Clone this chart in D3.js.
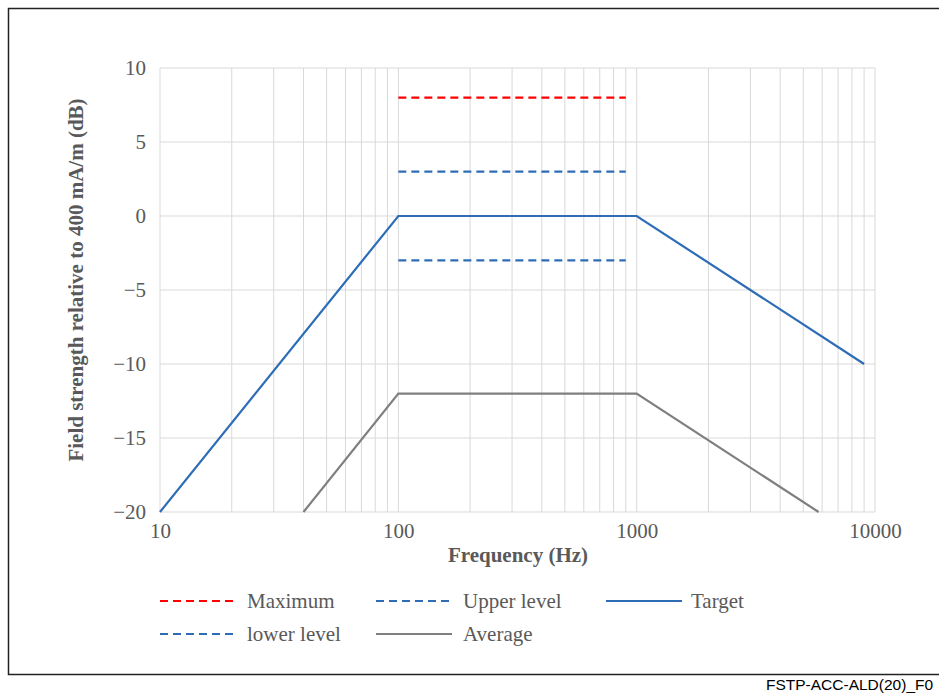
<!DOCTYPE html>
<html>
<head>
<meta charset="utf-8">
<script src="https://cdn.jsdelivr.net/npm/d3@7"></script>
<style>
  body { margin: 0; background: #fff; }
  svg { display: block; }
</style>
</head>
<body>
<svg width="939" height="697"></svg>
<script>
// data (frequency in Hz, level in dB)
const targetFreq = [10, 100, 1000, 9000];
const targetDb   = [-20, 0, 0, -10];
const averageFreq = [40, 100, 1000, 5800];
const averageDb   = [-20, -12, -12, -20];
const limitFreq = [100, 900];
const maximumDb = [8, 8];
const upperDb   = [3, 3];
const lowerDb   = [-3, -3];
const xTicks = [10, 100, 1000, 10000];
const yTicks = [10, 5, 0, -5, -10, -15, -20];

const svg = d3.select('svg');
const margin = { top: 68, left: 160 };
const innerWidth = 875 - margin.left;
const innerHeight = 512 - margin.top;

const serif = "'Liberation Serif', 'Times New Roman', serif";
const textGrey = '#595959';
const blue = '#2e6db6';

// outer frame (right side runs off the picture)
svg.append('path')
  .attr('d', 'M939,8.5 H8.5 V674.5 H939')
  .attr('fill', 'none').attr('stroke', '#222').attr('stroke-width', 1.5);

svg.append('text')
  .attr('x', 766).attr('y', 690)
  .style('font-family', "'Liberation Sans', Arial, sans-serif")
  .style('font-size', '15.5px')
  .attr('fill', '#000')
  .text('FSTP-ACC-ALD(20)_F0');

const g = svg.append('g')
  .attr('transform', `translate(${margin.left},${margin.top})`);

const xScale = d3.scaleLog().domain([10, 10000]).range([0, innerWidth]);
const yScale = d3.scaleLinear().domain([-20, 10]).range([innerHeight, 0]);

// vertical grid: every 1..9 per decade
const minorTicks = [];
for (let dec = 10; dec < 10000; dec *= 10)
  for (let k = 1; k <= 9; k++) minorTicks.push(dec * k);
minorTicks.push(10000);

g.append('g').selectAll('line')
  .data(minorTicks).enter().append('line')
    .attr('x1', d => xScale(d)).attr('x2', d => xScale(d))
    .attr('y1', 0).attr('y2', innerHeight)
    .attr('stroke', '#d9d9d9').attr('stroke-width', 1);

g.append('g').selectAll('line')
  .data(yTicks).enter().append('line')
    .attr('x1', 0).attr('x2', innerWidth)
    .attr('y1', d => yScale(d)).attr('y2', d => yScale(d))
    .attr('stroke', '#d9d9d9').attr('stroke-width', 1);

// axes (labels only)
const xAxisG = g.append('g')
  .attr('transform', `translate(0,${innerHeight})`)
  .call(d3.axisBottom(xScale).tickValues(xTicks).tickFormat(d3.format('d')).tickSize(0).tickPadding(11));
const yAxisG = g.append('g')
  .call(d3.axisLeft(yScale).tickValues(yTicks).tickFormat(d => d < 0 ? '\u2212' + (-d) : d).tickSize(0).tickPadding(14));
[xAxisG, yAxisG].forEach(a => {
  a.select('.domain').remove();
  a.style('font-family', serif)
   .style('font-size', '21px')
   .style('color', textGrey);
});

svg.append('text')
  .attr('text-anchor', 'middle')
  .attr('x', 518).attr('y', 562)
  .style('font-family', serif)
  .style('font-size', '21px').style('font-weight', 'bold')
  .attr('fill', textGrey)
  .text('Frequency (Hz)');

svg.append('text')
  .attr('text-anchor', 'middle')
  .attr('transform', 'translate(83,280) rotate(-90)')
  .style('font-family', serif)
  .style('font-size', '21px').style('font-weight', 'bold')
  .attr('fill', textGrey)
  .text('Field strength relative to 400 mA/m (dB)');

const line = d3.line().x(d => xScale(d[0])).y(d => yScale(d[1]));
const zip = (a, b) => a.map((v, i) => [v, b[i]]);

const series = [
  { name: 'Maximum', pts: zip(limitFreq, maximumDb), color: '#ff0000', dash: '8,5' },
  { name: 'Upper level', pts: zip(limitFreq, upperDb), color: blue, dash: '8,5' },
  { name: 'Target', pts: zip(targetFreq, targetDb), color: blue, dash: null },
  { name: 'lower level', pts: zip(limitFreq, lowerDb), color: blue, dash: '8,5' },
  { name: 'Average', pts: zip(averageFreq, averageDb), color: '#7f7f7f', dash: null }
];

g.selectAll('path.series')
  .data(series).enter().append('path')
    .attr('class', 'series')
    .attr('d', d => line(d.pts))
    .attr('fill', 'none')
    .attr('stroke', d => d.color)
    .attr('stroke-width', 2.2)
    .attr('stroke-dasharray', d => d.dash);

// legend
const legendPos = [[160, 601], [376, 601], [606, 601], [160, 634], [376, 634]];
const lg = svg.append('g').selectAll('g')
  .data(series).enter().append('g')
    .attr('transform', (d, i) => `translate(${legendPos[i][0]},${legendPos[i][1]})`);
lg.append('line')
  .attr('x1', 0).attr('x2', 76).attr('y1', 0).attr('y2', 0)
  .attr('stroke', d => d.color).attr('stroke-width', 2.2)
  .attr('stroke-dasharray', d => d.dash);
lg.append('text')
  .attr('x', d => d.name === 'Target' ? 85 : 87).attr('y', 7)
  .style('font-family', serif)
  .style('font-size', '21px')
  .attr('fill', textGrey)
  .text(d => d.name);
</script>
</body>
</html>
